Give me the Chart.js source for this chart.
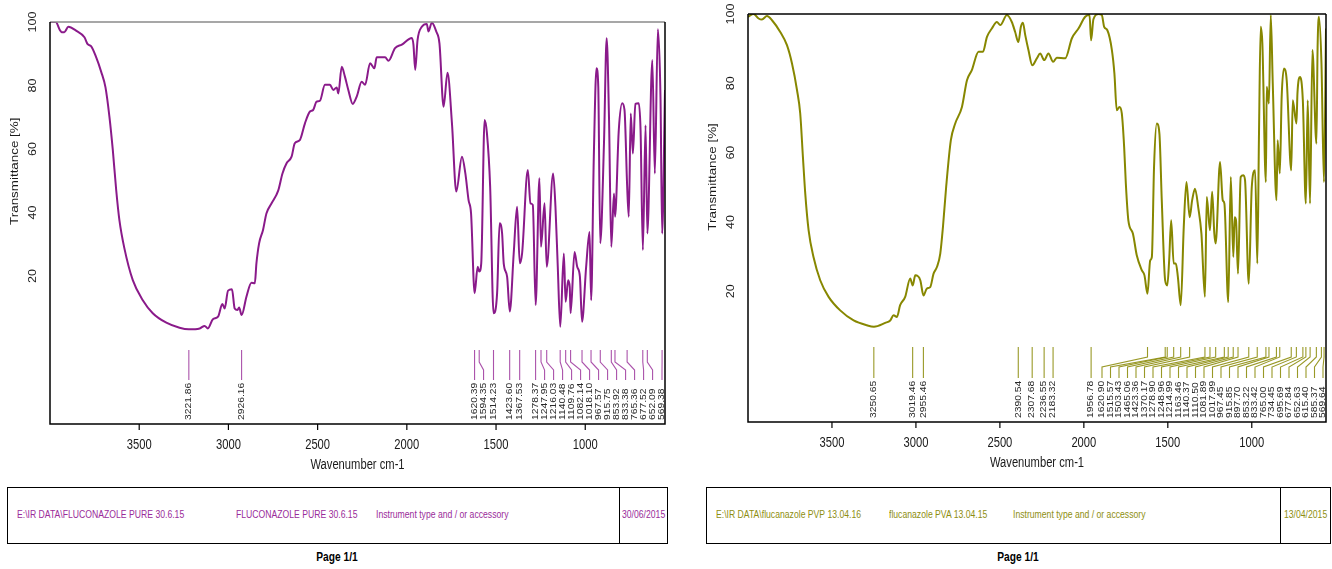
<!DOCTYPE html>
<html>
<head>
<meta charset="utf-8">
<title>IR spectra - fluconazole</title>
<script src="https://cdn.jsdelivr.net/npm/chart.js@4.4.1/dist/chart.umd.min.js"></script>
<style>
body { margin:0; background:#fff; width:1332px; height:569px; position:relative; overflow:hidden; font-family:'Liberation Sans', Arial, sans-serif; }
canvas { position:absolute; top:0; }
#irLeft { left:0; }
#irRight { left:690px; }
.box { position:absolute; top:487px; height:57px; border:1.5px solid #000; box-sizing:border-box; }
.box .sep { position:absolute; top:0; bottom:0; width:0; border-left:1.5px solid #000; }
.box span { position:absolute; top:20px; white-space:nowrap; font-size:10.8px; transform:scaleX(0.8); transform-origin:left center; }
.page { position:absolute; top:550px; width:200px; text-align:center; font-weight:bold; font-size:12px; transform:scaleX(0.85); }
</style>
</head>
<body>
<canvas id="irLeft" width="680" height="480"></canvas>
<canvas id="irRight" width="642" height="480"></canvas>

<div class="box" style="left:7px; width:661px; color:#9a2c9a;">
  <span style="left:9px">E:\IR DATA\FLUCONAZOLE PURE 30.6.15</span>
  <span style="left:228px">FLUCONAZOLE PURE 30.6.15</span>
  <span style="left:368px">Instrument type and / or accessory</span>
  <div class="sep" style="left:611px"></div>
  <span style="left:614px">30/06/2015</span>
</div>
<div class="page" style="left:237px">Page 1/1</div>

<div class="box" style="left:706px; width:625px; color:#8e8e10;">
  <span style="left:9px">E:\IR DATA\flucanazole PVP 13.04.16</span>
  <span style="left:182px">flucanazole PVA 13.04.15</span>
  <span style="left:306px">Instrument type and / or accessory</span>
  <div class="sep" style="left:573px"></div>
  <span style="left:577px">13/04/2015</span>
</div>
<div class="page" style="left:918px">Page 1/1</div>

<script>
// fluconazole pure (left spectrum)
var pureWn = [4000, 3968, 3945, 3935, 3920, 3897, 3854, 3807, 3789, 3770, 3742, 3713, 3689, 3667, 3648, 3629, 3611, 3583, 3536, 3480,
  3424, 3348, 3274, 3222, 3161, 3133, 3115, 3087, 3058, 3034, 3021, 3002, 2980, 2965, 2949, 2940, 2926, 2899, 2871, 2852,
  2843, 2828, 2806, 2787, 2758, 2721, 2697, 2674, 2646, 2628, 2600, 2571, 2543, 2525, 2506, 2487, 2459, 2431, 2412, 2393,
  2384, 2365, 2347, 2328, 2303, 2281, 2253, 2234, 2206, 2182, 2169, 2122, 2103, 2066, 2028, 1972, 1963, 1953, 1940, 1916,
  1888, 1879, 1860, 1835, 1817, 1794, 1772, 1747, 1723, 1691, 1672, 1654, 1640, 1620, 1603, 1594, 1583, 1564, 1551, 1533,
  1514, 1494, 1480, 1466, 1457, 1438, 1423, 1401, 1382, 1367, 1354, 1322, 1307, 1294, 1278, 1257, 1248, 1228, 1216, 1180,
  1167, 1154, 1140, 1120, 1110, 1096, 1087, 1082, 1060, 1045, 1030, 1018, 995, 976, 967, 952, 937, 927, 916, 895,
  880, 867, 854, 839, 833, 812, 793, 780, 765, 756, 745, 733, 719, 700, 690, 677, 662, 652, 624, 610,
  593, 578, 569, 553];
var pureT = [100, 100, 97.5, 96.8, 96.8, 98.5, 97.3, 95.2, 93, 92.4, 89, 84.3, 79.4, 70.2, 59.7, 47.1, 37.6, 28.7, 18.7, 12.4,
  8.3, 5.3, 3.7, 3.2, 3.5, 4.3, 3.5, 6.4, 7.2, 11.2, 9.8, 15.4, 15.8, 9.8, 9.3, 10.1, 7.7, 13.5, 17.9, 17.7,
  24, 30.3, 34.5, 39.7, 42.9, 46.9, 52.3, 55.5, 57.6, 61.8, 62.8, 68.1, 71.8, 72.3, 74.9, 75.2, 80.2, 80.2, 78.6, 79.4,
  77.5, 85.9, 82.8, 78.6, 74.2, 76.5, 81.2, 80.2, 87, 85.4, 88.9, 88.9, 87.8, 91.8, 92.9, 95, 92.9, 84.9, 94.3, 98.5,
  99.4, 97, 99.8, 97, 93.2, 73.3, 84, 68, 46.6, 57.6, 52.3, 43.9, 39.7, 14.6, 22.9, 21.4, 24, 69.1, 64.9, 48.1,
  8.3, 14.6, 36.6, 33.4, 24, 19.8, 8.8, 27.1, 41.8, 24, 27.1, 53.4, 42.9, 42.4, 10.9, 50.8, 29.2, 42.9, 22.9, 52.3,
  41.8, 22.9, 4, 27.1, 11.9, 18.7, 16.6, 8.3, 27.6, 22.9, 19.8, 5.6, 22.9, 33.9, 12.4, 57.6, 85.4, 79.6, 30.3, 61.8,
  94.9, 70.2, 29.2, 46, 38.7, 66, 74.4, 72.3, 48.1, 38.7, 71.2, 58.6, 74.2, 74.4, 66, 28.2, 67.5, 33.4, 88, 52.3,
  97.7, 75.4, 33.4, 78.6];
var purePeaks = [3221.86, 2926.16, 1620.39, 1594.35, 1514.23, 1423.60, 1367.53, 1278.37, 1247.95, 1216.03, 1140.48,
  1109.76, 1082.14, 1018.10, 967.57, 915.75, 853.92, 833.38, 765.36, 677.52, 652.09, 569.38];

// fluconazole with PVP (right spectrum)
var pvpWn = [4000, 3967, 3937, 3917, 3887, 3857, 3808, 3768, 3738, 3708, 3689, 3673, 3659, 3639, 3610, 3570, 3520, 3451, 3371, 3292,
  3250, 3183, 3153, 3133, 3113, 3094, 3064, 3034, 3019, 3004, 2974, 2955, 2935, 2915, 2895, 2875, 2855, 2839, 2820, 2792,
  2766, 2726, 2696, 2667, 2627, 2601, 2577, 2548, 2518, 2498, 2458, 2429, 2409, 2390, 2375, 2363, 2349, 2330, 2307, 2280,
  2260, 2236, 2211, 2183, 2161, 2111, 2071, 2032, 1992, 1966, 1957, 1943, 1913, 1893, 1879, 1860, 1833, 1818, 1804, 1788,
  1774, 1760, 1750, 1735, 1708, 1685, 1655, 1639, 1621, 1605, 1595, 1582, 1566, 1550, 1536, 1516, 1503, 1492, 1480, 1465,
  1452, 1440, 1423, 1405, 1389, 1370, 1355, 1338, 1318, 1300, 1279, 1268, 1249, 1236, 1223, 1215, 1189, 1173, 1163, 1140,
  1125, 1110, 1102, 1094, 1082, 1066, 1050, 1040, 1018, 1000, 980, 967, 957, 947, 937, 916, 911, 898, 887, 875,
  853, 846, 833, 822, 808, 792, 765, 756, 734, 728, 713, 696, 678, 667, 653, 639, 615, 608, 600, 585,
  570, 558];
var pvpT = [99.2, 100, 98.7, 98.4, 99.4, 98.2, 94.8, 91, 85.7, 78, 71.3, 58.8, 48.2, 37.6, 29.9, 23.2, 18.4, 14.5, 11.6, 10.2,
  9.8, 10.9, 11.6, 13.1, 12.6, 16, 18.4, 23.7, 21.7, 24.6, 23.2, 18.8, 20.8, 21.2, 25.1, 27, 30.9, 38.6, 50.1, 63.6,
  68.4, 73.2, 80.9, 83.8, 89.1, 89.1, 93.4, 95.8, 97.7, 96.8, 99.7, 97.7, 94.8, 91.9, 96.3, 97.5, 93.9, 89.6, 85.2, 87.2,
  88.6, 86.7, 88.6, 86.2, 87.4, 87.2, 93, 95.8, 99.2, 99.7, 92.4, 98.5, 100, 99.7, 96.3, 95.3, 89.6, 82.8, 72.2, 73.2,
  71.3, 61.6, 51.1, 40.5, 36.7, 30.4, 26.1, 24.6, 19.3, 28.9, 29.9, 55.9, 68.4, 65.5, 46.3, 23.2, 21.7, 28.9, 40.5, 28,
  28, 24.1, 16, 38.6, 51.5, 41.4, 46.3, 49.6, 43.9, 36.7, 18.4, 47.2, 37.6, 48.7, 36.6, 33.8, 57.3, 46.3, 45.3, 16.9,
  53, 29.9, 41.4, 40.5, 25.1, 53, 53.5, 52, 22.2, 50.1, 54.9, 28, 65.5, 96.3, 91.5, 51.5, 79, 74.2, 99.7, 79.9,
  46.3, 63.6, 54, 76.1, 84.3, 80.9, 54.9, 75.1, 68.4, 77.1, 81.8, 75.1, 45.3, 75.1, 45.3, 89.6, 62.6, 90.5, 99.2, 85.7,
  51.5, 95.8];
var pvpPeaks = [3250.65, 3019.46, 2955.46, 2390.54, 2307.68, 2236.55, 2183.32, 1956.78, 1620.90, 1515.57, 1503.43,
  1465.06, 1423.36, 1370.17, 1278.90, 1248.96, 1214.99, 1163.46, 1140.37, 1110.50, 1081.89, 1017.99, 967.45, 915.85,
  897.70, 853.22, 833.42, 765.00, 734.45, 695.69, 677.84, 652.63, 615.40, 585.37, 569.64];

var xTicks = [3500, 3000, 2500, 2000, 1500, 1000];
var yTicks = [20, 40, 60, 80, 100];

var SQ = 0.8; // the printout is squeezed sideways

function seg(ctx, x1, y1, x2, y2) {
    ctx.beginPath();
    ctx.moveTo(x1, y1);
    ctx.lineTo(x2, y2);
    ctx.stroke();
}

function label(ctx, s, x, y, size, rot, align) {
    ctx.save();
    ctx.translate(x, y);
    ctx.scale(SQ, 1);
    if (rot) ctx.rotate(rot);
    ctx.font = size + "px 'Liberation Sans', Arial, sans-serif";
    ctx.textAlign = align || 'center';
    ctx.textBaseline = 'middle';
    ctx.fillText(s, 0, 0);
    ctx.restore();
}

// frame, ticks, titles and peak markers
function decor(peaks, o) {
    return {
        id: 'irDecor',
        afterDatasetsDraw: function (chart) {
            var ctx = chart.ctx, a = chart.chartArea;
            var xs = chart.scales.x, ys = chart.scales.y;
            ctx.save();
            ctx.lineWidth = 1.5;
            ctx.strokeStyle = o.topColor;
            seg(ctx, a.left, a.top, a.right, a.top);
            ctx.strokeStyle = '#000';
            ctx.beginPath();
            ctx.moveTo(a.left, a.top);
            ctx.lineTo(a.left, a.bottom);
            ctx.lineTo(a.right, a.bottom);
            ctx.lineTo(a.right, a.top);
            ctx.stroke();

            ctx.fillStyle = '#1a1a1a';
            ctx.lineWidth = 1.2;
            xTicks.forEach(function (v) {
                var px = xs.getPixelForValue(v);
                seg(ctx, px, a.bottom, px, a.bottom + 6);
                label(ctx, String(v), px, a.bottom + 21, 14);
            });
            label(ctx, 'Wavenumber cm-1', (a.left + a.right) / 2, a.bottom + 41, 14);

            yTicks.forEach(function (v) {
                label(ctx, String(v), a.left - 17, ys.getPixelForValue(v), 12.5, -Math.PI / 2);
            });
            label(ctx, 'Transmittance [%]', a.left - 35, ys.getPixelForValue(53), 13.4, -Math.PI / 2);

            // spread crowded peak labels
            var items = peaks.map(function (p) {
                return { v: p, px: xs.getPixelForValue(p) };
            }).sort(function (p, q) { return p.px - q.px; });
            items.forEach(function (it, i) {
                it.lx = i ? Math.max(it.px, items[i - 1].lx + o.gap) : it.px;
            });
            var lim = a.right - 3;
            for (var i = items.length - 1; i >= 0; i--) {
                var cap = i === items.length - 1 ? lim : items[i + 1].lx - o.gap;
                items[i].lx = Math.min(items[i].lx, cap);
            }

            var b = a.bottom, k = o.legs;
            ctx.strokeStyle = o.markColor;
            ctx.lineWidth = 1.1;
            ctx.fillStyle = '#2a2a2a';
            items.forEach(function (it) {
                ctx.beginPath();
                ctx.moveTo(it.px, b - k[0]);
                ctx.lineTo(it.px, b - k[1]);
                ctx.lineTo(it.lx, b - k[2]);
                ctx.lineTo(it.lx, b - k[3]);
                ctx.stroke();
                label(ctx, it.v.toFixed(2), it.lx, b - 4, 10.3, -Math.PI / 2, 'left');
            });
            ctx.restore();
        }
    };
}

function irChart(id, wn, tr, peaks, o) {
    var pts = wn.map(function (w, i) { return { x: w, y: tr[i] }; });
    return new Chart(document.getElementById(id), {
        type: 'line',
        data: {
            datasets: [{
                data: pts,
                borderColor: o.color,
                borderWidth: 2,
                pointRadius: 0,
                cubicInterpolationMode: 'monotone',
                fill: false
            }]
        },
        options: {
            responsive: false,
            animation: false,
            devicePixelRatio: 1,
            layout: { padding: o.pad },
            plugins: { legend: { display: false }, tooltip: { enabled: false } },
            scales: {
                x: { type: 'linear', reverse: true, min: o.xMin, max: 4000, display: false },
                y: { type: 'linear', min: o.yMin, max: 100, display: false }
            }
        },
        plugins: [decor(peaks, o)]
    });
}

irChart('irLeft', pureWn, pureT, purePeaks, {
    color: '#8a1a8a', markColor: 'rgba(150,40,150,0.8)', topColor: '#8a8a8a',
    pad: { left: 50, top: 22, right: 15, bottom: 56 },
    xMin: 553, yMin: -26.6, gap: 9, legs: [74, 62, 54, 44]
});

irChart('irRight', pvpWn, pvpT, pvpPeaks, {
    color: '#878700', markColor: 'rgba(135,135,0,0.85)', topColor: '#000',
    pad: { left: 58, top: 14, right: 6, bottom: 58 },
    xMin: 558, yMin: -17.7, gap: 8.5, legs: [75, 65, 55, 44]
});
</script>
</body>
</html>
